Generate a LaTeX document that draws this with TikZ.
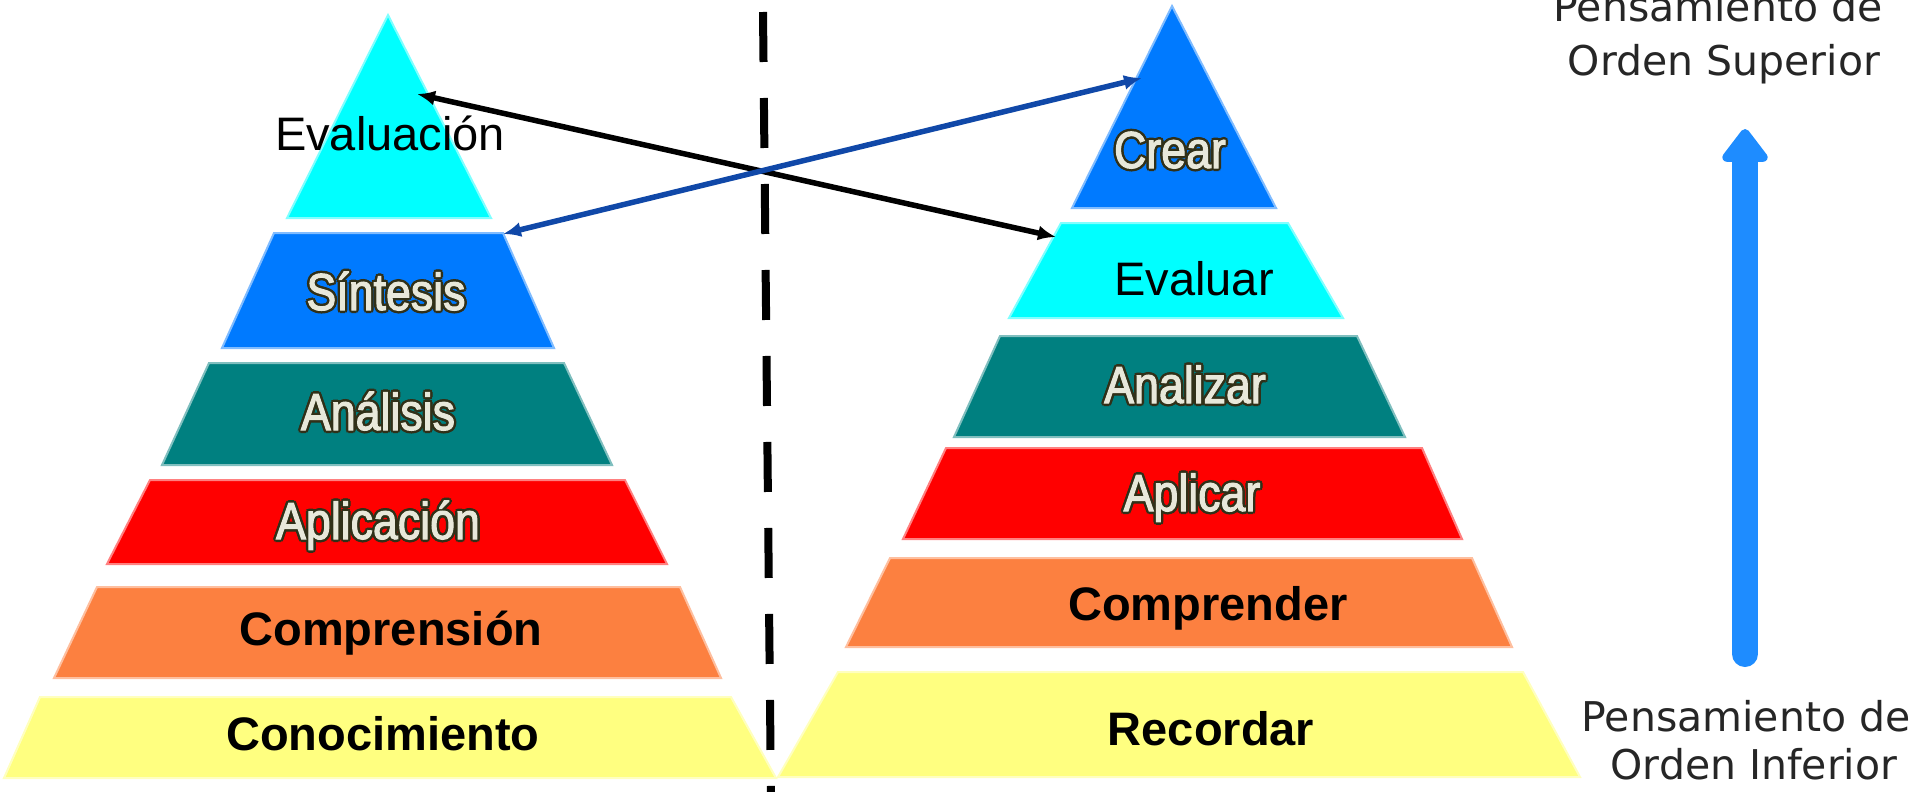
\documentclass[tikz,border=0pt]{standalone}
\usepackage{fontspec}
\setmainfont{Liberation Sans}
\newfontfamily\sidefont{DejaVu Sans}
\newfontfamily\artfont[FakeStretch=0.86,FakeBold=2]{Liberation Sans}
\usepackage{xcolor}
\usetikzlibrary{arrows.meta}

\definecolor{evalcyan}{RGB}{0,255,255}
\definecolor{synblue}{RGB}{0,122,255}
\definecolor{anateal}{RGB}{0,128,128}
\definecolor{appred}{RGB}{255,0,0}
\definecolor{comporange}{RGB}{252,128,64}
\definecolor{knowyellow}{RGB}{255,255,128}
\definecolor{linkblue}{RGB}{16,72,168}
\definecolor{upblue}{RGB}{30,140,255}
\definecolor{wordedge}{RGB}{48,48,24}
\definecolor{wordfill}{RGB}{232,232,218}

\newcommand\edgecopy[3]{\rlap{\kern#1\raisebox{#2}{\textcolor{wordedge}{#3}}}}
\newcommand\wordart[1]{\leavevmode
  \edgecopy{-2.5pt}{0pt}{#1}\edgecopy{2.5pt}{0pt}{#1}%
  \edgecopy{0pt}{2.5pt}{#1}\edgecopy{0pt}{-2.5pt}{#1}%
  \edgecopy{-1.8pt}{1.8pt}{#1}\edgecopy{1.8pt}{1.8pt}{#1}%
  \edgecopy{-1.8pt}{-1.8pt}{#1}\edgecopy{1.8pt}{-1.8pt}{#1}%
  \textcolor{wordfill}{#1}}

\tikzset{
  tier/.style={draw=#1!50!white, line width=2pt, fill=#1},
  lbl/.style={anchor=base, inner sep=0pt, font=\fontsize{47}{50}\selectfont},
  heavy/.style={lbl, font=\fontsize{47}{50}\selectfont\bfseries},
  art/.style={lbl, font=\artfont\fontsize{52}{56}\selectfont},
  side/.style={anchor=base, inner sep=0pt, text=black!85, font=\sidefont\fontsize{41}{50}\selectfont},
  link/.style={line width=5.5pt, <->},
}

\begin{document}
\begin{tikzpicture}[x=1pt,y=-1pt,>={Latex[length=18pt,width=15pt]}]
  \useasboundingbox (0,0) rectangle (1915,792);
  \foreach \nm/\col/\ya/\yb/\xa/\xb/\xc/\xd in {
      eva/evalcyan/15/218/388/388/287/491,
      sin/synblue/233/348/274/503/222/554,
      ana/anateal/363/465/209/564/162/612,
      apl/appred/480/564/150/625/107/667,
      com/comporange/587/678/97/680/54/721,
      con/knowyellow/697/778/40/731/4/776,
      cre/synblue/6/208/1172/1172/1072/1276,
      evr/evalcyan/223/318/1061/1288/1009/1343,
      anr/anateal/336/437/1000/1357/954/1405,
      apr/appred/448/539/946/1422/903/1462,
      cor/comporange/558/647/890/1472/846/1512,
      rec/knowyellow/672/777/838/1523/778/1580} {
    \path[tier=\col] (\xa,\ya) -- (\xb,\ya) -- (\xd,\yb) -- (\xc,\yb) -- cycle;
  }

  \node[lbl] (evaluacion) at (390,150) {Evaluación};
  \node[lbl] (evaluar) at (1194,295) {Evaluar};
  \foreach \nm/\x/\y/\txt in {sintesis/386/310/Síntesis, analisis/378/430/Análisis,
      aplicacion/378/539/Aplicación, crear/1170/168/Crear,
      analizar/1185/403/Analizar, aplicar/1192/511/Aplicar}
    \node[art] (\nm) at (\x,\y) {\wordart{\txt}};
  \foreach \nm/\x/\y/\txt in {comprension/391/645/Comprensión, conocimiento/383/750/Conocimiento,
      comprender/1208/620/Comprender, recordar/1211/745/Recordar}
    \node[heavy] (\nm) at (\x,\y) {\txt};

  \coordinate (dashTop) at (763,12);
  \coordinate (dashEnd) at (771,800);
  \draw[line width=8pt, dash pattern=on 50pt off 36pt] (dashTop) -- (dashEnd);

  \coordinate (evaTip) at (417,94);
  \coordinate (evrTip) at (1056,237);
  \coordinate (sinTip) at (503,234);
  \coordinate (creTip) at (1142,78);
  \draw[link] (evaTip) -- (evrTip);
  \draw[link,linkblue] (sinTip) -- (creTip);

  \coordinate (upFoot) at (1745,654);
  \coordinate (upHead) at (1745,129);
  \draw[upblue, line width=26pt, line cap=round, -{Triangle[width=52pt,length=36pt,round]}] (upFoot) -- (upHead);

  \node[side] (superiorA) at (1718,22) {Pensamiento de};
  \node[side] (superiorB) at (1724,76) {Orden Superior};
  \node[side] (inferiorA) at (1746,731) {Pensamiento de};
  \node[side] (inferiorB) at (1754,779) {Orden Inferior};
\end{tikzpicture}
\end{document}
